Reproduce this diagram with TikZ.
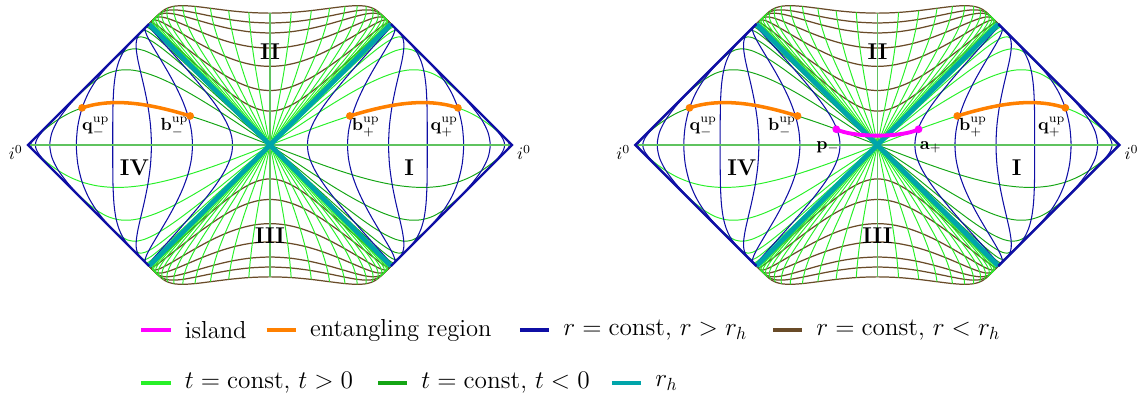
\documentclass[tikz,border=0pt]{standalone}
\usepackage{amsmath}
\usetikzlibrary{positioning}

\definecolor{routcol}{RGB}{15,15,165}
\definecolor{rincol}{RGB}{105,75,40}
\definecolor{tposcol}{RGB}{40,240,40}
\definecolor{tnegcol}{RGB}{20,165,20}
\definecolor{tzerocol}{RGB}{95,195,95}
\definecolor{horcol}{RGB}{0,165,170}
\definecolor{entcol}{RGB}{255,128,0}
\definecolor{islcol}{RGB}{255,0,255}

\tikzset{
    rbig/.style={routcol, line width=0.6pt},
    rsmall/.style={rincol, line width=0.7pt},
    tplus/.style={tposcol, line width=0.55pt},
    tminus/.style={tnegcol, line width=0.55pt},
    tnull/.style={tzerocol, line width=0.9pt},
    horizon/.style={horcol, line width=2.8pt},
    border/.style={routcol, line width=1.4pt, line join=miter},
    entang/.style={entcol, line width=2pt},
    islandline/.style={islcol, line width=2.2pt},
    regionlab/.style={font=\fontsize{13}{15}\selectfont\bfseries},
    ptlab/.style={font=\fontsize{10}{12}\selectfont, inner sep=1pt},
    legtext/.style={font=\fontsize{14}{16}\selectfont, inner sep=0pt},
    legline/.style={line width=2.2pt},
}

\begin{document}
\begin{tikzpicture}[x=2.42cm, y=2.42cm,
    declare function={th(\z)=1-2/(exp(2*min(\z,4.5))+1);}]

    \useasboundingbox (-2.2314,-2.1405) rectangle (7.2314,1.1983);

    % ============================================================
    % CURVE POINTS (computed once, mirrored below)
    % ============================================================
    % r = const, r < r_h
    \foreach \rb [count=\i] in {0.611,0.555,0.501,0.424,0.337,0.229,0.141}{
        \gdef\pts{}
        \foreach \j in {0,...,70}{
            \pgfmathsetmacro\pa{th(\rb*exp(-7+0.2*\j))}
            \pgfmathsetmacro\pb{th(\rb*exp(7-0.2*\j))}
            \pgfmathsetmacro\xx{\pa-\pb}
            \pgfmathsetmacro\yy{\pa+\pb}
            \xdef\pts{\pts(\xx,\yy)}
        }
        \expandafter\xdef\csname ptsin\i\endcsname{\pts}
    }
    % r = const, r > r_h
    \foreach \ra [count=\i] in {0.156,0.332,0.536,0.775,1.099,1.527,2.09,2.65}{
        \gdef\pts{}
        \foreach \j in {0,...,70}{
            \pgfmathsetmacro\pa{th(\ra*exp(-7+0.2*\j))}
            \pgfmathsetmacro\pb{th(\ra*exp(7-0.2*\j))}
            \pgfmathsetmacro\xx{\pa+\pb}
            \pgfmathsetmacro\yy{\pa-\pb}
            \xdef\pts{\pts(\xx,\yy)}
        }
        \expandafter\xdef\csname ptsout\i\endcsname{\pts}
    }
    % t = const, exterior
    \foreach \n in {1,...,6}{
        \pgfmathsetmacro\h{0.41*\n}
        \gdef\pts{(0,0)}
        \foreach \j in {0,...,40}{
            \pgfmathsetmacro\w{-4-\h+\j*(5.6+2*\h)/40}
            \pgfmathsetmacro\pa{th(exp(\w+\h))}
            \pgfmathsetmacro\pb{th(exp(\w-\h))}
            \pgfmathsetmacro\xx{\pa+\pb}
            \pgfmathsetmacro\yy{\pa-\pb}
            \xdef\pts{\pts(\xx,\yy)}
        }
        \expandafter\xdef\csname ptstex\n\endcsname{\pts}
    }
    % t = const, interior
    \foreach \n in {1,...,12}{
        \pgfmathsetmacro\eh{exp(0.205*\n)}
        \gdef\pts{}
        \foreach \j in {0,...,20}{
            \pgfmathsetmacro\s{0.611*\j/20}
            \pgfmathsetmacro\pa{th(\s*\eh)}
            \pgfmathsetmacro\pb{th(\s/\eh)}
            \pgfmathsetmacro\xx{\pa-\pb}
            \pgfmathsetmacro\yy{\pa+\pb}
            \xdef\pts{\pts(\xx,\yy)}
        }
        \expandafter\xdef\csname ptstin\n\endcsname{\pts}
    }
    % entangling region arc
    \gdef\pts{}
    \foreach \j in {0,...,20}{
        \pgfmathsetmacro\w{-1.134+\j*1.23/20}
        \pgfmathsetmacro\pa{th(exp(\w+0.41))}
        \pgfmathsetmacro\pb{th(exp(\w-0.41))}
        \pgfmathsetmacro\xx{\pa+\pb}
        \pgfmathsetmacro\yy{\pa-\pb}
        \xdef\pts{\pts(\xx,\yy)}
    }
    \global\let\ptsent\pts

    \foreach \dx/\k in {0/a,5.02/b}{
    \begin{scope}[shift={(\dx,0)}]

    \coordinate (iL\k) at (-2,0);
    \coordinate (iR\k) at (2,0);
    \coordinate (nw\k) at (-1,1);
    \coordinate (ne\k) at (1,1);
    \coordinate (sw\k) at (-1,-1);
    \coordinate (se\k) at (1,-1);
    \coordinate (top\k) at (0,1.0896);
    \coordinate (bot\k) at (0,-1.0896);

    % ============================================================
    % REGIONS II, III
    % ============================================================
    \foreach \i in {1,...,7}{
        \edef\tmp{\noexpand\draw[rsmall] plot[smooth] coordinates {\csname ptsin\i\endcsname};
            \noexpand\draw[rsmall, yscale=-1] plot[smooth] coordinates {\csname ptsin\i\endcsname};}
        \tmp
    }
    \foreach \n in {1,...,12}{
        \edef\tmp{\noexpand\draw[tplus] plot[smooth] coordinates {\csname ptstin\n\endcsname};
            \noexpand\draw[tplus, xscale=-1] plot[smooth] coordinates {\csname ptstin\n\endcsname};
            \noexpand\draw[tplus, yscale=-1] plot[smooth] coordinates {\csname ptstin\n\endcsname};
            \noexpand\draw[tplus, scale=-1] plot[smooth] coordinates {\csname ptstin\n\endcsname};}
        \tmp
    }

    % ============================================================
    % REGIONS I, IV
    % ============================================================
    \foreach \n in {1,...,6}{
        \edef\tmp{\noexpand\draw[tplus] plot[smooth] coordinates {\csname ptstex\n\endcsname};
            \noexpand\draw[tminus, yscale=-1] plot[smooth] coordinates {\csname ptstex\n\endcsname};
            \noexpand\draw[tminus, xscale=-1] plot[smooth] coordinates {\csname ptstex\n\endcsname};
            \noexpand\draw[tplus, scale=-1] plot[smooth] coordinates {\csname ptstex\n\endcsname};}
        \tmp
    }
    \foreach \i in {1,...,8}{
        \edef\tmp{\noexpand\draw[rbig] plot[smooth] coordinates {\csname ptsout\i\endcsname};
            \noexpand\draw[rbig, xscale=-1] plot[smooth] coordinates {\csname ptsout\i\endcsname};}
        \tmp
    }

    % t = 0
    \draw[tnull] (iL\k) -- (iR\k);
    \draw[tnull] (top\k) -- (bot\k);

    % ============================================================
    % HORIZONS AND BOUNDARY
    % ============================================================
    \draw[horizon] (sw\k) -- (ne\k);
    \draw[horizon] (nw\k) -- (se\k);
    \draw[border] (nw\k) -- (iL\k) -- (sw\k);
    \draw[border] (ne\k) -- (iR\k) -- (se\k);

    % ============================================================
    % ENTANGLING REGIONS
    % ============================================================
    \coordinate (bp\k) at (0.660,0.240);
    \coordinate (qp\k) at (1.553,0.307);
    \coordinate (bm\k) at (-0.660,0.240);
    \coordinate (qm\k) at (-1.553,0.307);
    \edef\tmp{\noexpand\draw[entang] plot[smooth] coordinates {\ptsent};
        \noexpand\draw[entang, xscale=-1] plot[smooth] coordinates {\ptsent};}
    \tmp
    \foreach \pt in {bp,qp,bm,qm}
        \fill[entcol] (\pt\k) circle (2.2pt);

    \node[ptlab] (lqm\k) at (-1.44,0.15) {$\mathbf{q}^{\mathrm{up}}_{-}$};
    \node[ptlab] (lbm\k) at (-0.79,0.15) {$\mathbf{b}^{\mathrm{up}}_{-}$};
    \node[ptlab] (lbp\k) at (0.79,0.15) {$\mathbf{b}^{\mathrm{up}}_{+}$};
    \node[ptlab] (lqp\k) at (1.44,0.15) {$\mathbf{q}^{\mathrm{up}}_{+}$};

    % ============================================================
    % REGION LABELS
    % ============================================================
    \node[regionlab] (rI\k) at (1.15,-0.19) {I};
    \node[regionlab] (rII\k) at (0,0.77) {II};
    \node[regionlab] (rIII\k) at (0,-0.75) {III};
    \node[regionlab] (rIV\k) at (-1.12,-0.19) {IV};
    \node[ptlab] (lil\k) at (-2.10,-0.06) {$i^0$};
    \node[ptlab] (lir\k) at (2.10,-0.06) {$i^0$};

    \end{scope}
    }

    % ============================================================
    % ISLAND (RIGHT DIAGRAM)
    % ============================================================
    \begin{scope}[shift={(5.02,0)}]
        \coordinate (pm) at (-0.34,0.13);
        \coordinate (ap) at (0.34,0.13);
        \draw[islandline] (pm) .. controls (-0.2,0.06) and (0.2,0.06) .. (ap);
        \fill[islcol] (pm) circle (2.2pt);
        \fill[islcol] (ap) circle (2.2pt);
        \node[ptlab] (lpm) at (-0.41,-0.02) {$\mathbf{p}_-$};
        \node[ptlab] (lap) at (0.44,-0.02) {$\mathbf{a}_+$};
    \end{scope}

    % ============================================================
    % LEGEND
    % ============================================================
    \coordinate (k1) at (-1.062,-1.529);
    \coordinate (k2) at (-0.027,-1.529);
    \coordinate (k3) at (2.066,-1.529);
    \coordinate (k4) at (4.157,-1.529);
    \coordinate (k5) at (-1.062,-1.967);
    \coordinate (k6) at (0.893,-1.967);
    \coordinate (k7) at (2.826,-1.967);

    \draw[legline, islcol] (k1) -- ++(0.24,0) coordinate (k1e);
    \node[legtext, right=0.28cm of k1e] (t1) {island};
    \draw[legline, entcol] (k2) -- ++(0.24,0) coordinate (k2e);
    \node[legtext, right=0.28cm of k2e] (t2) {entangling region};
    \draw[legline, routcol] (k3) -- ++(0.24,0) coordinate (k3e);
    \node[legtext, right=0.28cm of k3e] (t3) {$r=\mathrm{const}$, $r>r_h$};
    \draw[legline, rincol] (k4) -- ++(0.24,0) coordinate (k4e);
    \node[legtext, right=0.28cm of k4e] (t4) {$r=\mathrm{const}$, $r<r_h$};
    \draw[legline, tposcol] (k5) -- ++(0.24,0) coordinate (k5e);
    \node[legtext, right=0.28cm of k5e] (t5) {$t=\mathrm{const}$, $t>0$};
    \draw[legline, tnegcol] (k6) -- ++(0.24,0) coordinate (k6e);
    \node[legtext, right=0.28cm of k6e] (t6) {$t=\mathrm{const}$, $t<0$};
    \draw[legline, horcol] (k7) -- ++(0.24,0) coordinate (k7e);
    \node[legtext, right=0.28cm of k7e] (t7) {$r_h$};

\end{tikzpicture}
\end{document}
